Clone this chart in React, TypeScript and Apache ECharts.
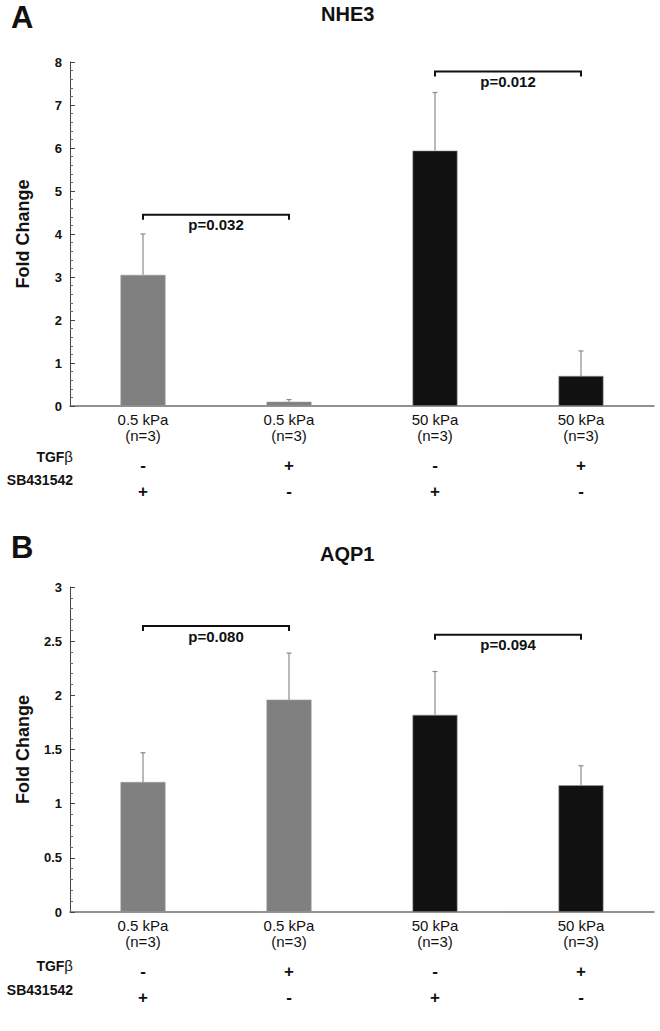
import React, { useEffect, useRef } from 'react';
import * as echarts from 'echarts';

// ---------- data ----------
const categories = ['0.5 kPa', '0.5 kPa', '50 kPa', '50 kPa'];
const sampleSizes = ['(n=3)', '(n=3)', '(n=3)', '(n=3)'];
const tgfSigns = ['-', '+', '-', '+'];
const sbSigns = ['+', '-', '+', '-'];
const barColors = ['#808080', '#808080', '#111111', '#111111'];

const nhe3Values = [3.05, 0.1, 5.94, 0.7];
const nhe3ErrTop = [4.0, 0.15, 7.29, 1.28];
const nhe3Brackets = [[0, 1, 4.45], [2, 3, 7.78]];
const nhe3PLabels = ['p=0.032', 'p=0.012'];
const nhe3Max = 8;
const nhe3Interval = 1;

const aqp1Values = [1.2, 1.96, 1.82, 1.17];
const aqp1ErrTop = [1.47, 2.39, 2.22, 1.35];
const aqp1Brackets = [[0, 1, 2.64], [2, 3, 2.56]];
const aqp1PLabels = ['p=0.080', 'p=0.094'];
const aqp1Max = 3;
const aqp1Interval = 0.5;

const FONT = 'Arial, "Liberation Sans", Helvetica, sans-serif';

function buildPanel(gridIndex: number, values: number[], errTop: number[], brackets: number[][], pLabels: string[], max: number, interval: number) {
  const xBase = gridIndex * 3;
  const xAxes = [
    {
      type: 'category',
      gridIndex,
      data: categories.map((c, i) => c + '\n' + sampleSizes[i]),
      axisLine: { lineStyle: { color: '#6e6e6e', width: 1.5 } },
      axisTick: { show: false },
      axisLabel: { interval: 0, margin: 5, color: '#111', fontSize: 15, lineHeight: 16, fontFamily: FONT },
    },
    {
      type: 'category',
      gridIndex,
      data: tgfSigns,
      position: 'bottom',
      offset: 46,
      axisLine: { show: false },
      axisTick: { show: false },
      axisLabel: { interval: 0, margin: 5, color: '#111', fontSize: 17, fontWeight: 'bold', fontFamily: FONT },
    },
    {
      type: 'category',
      gridIndex,
      data: sbSigns,
      position: 'bottom',
      offset: 72,
      axisLine: { show: false },
      axisTick: { show: false },
      axisLabel: { interval: 0, margin: 5, color: '#111', fontSize: 17, fontWeight: 'bold', fontFamily: FONT },
    },
  ];
  const yAxis = {
    type: 'value',
    gridIndex,
    min: 0,
    max,
    interval,
    name: 'Fold Change',
    nameLocation: 'middle',
    nameGap: 38,
    nameRotate: 90,
    nameTextStyle: { fontSize: 18, fontWeight: 'bold', color: '#111', fontFamily: FONT },
    axisLine: { show: true, lineStyle: { color: '#444', width: 1 } },
    axisTick: { show: true, inside: true, length: 5, lineStyle: { color: '#444' } },
    minorTick: { show: true, splitNumber: 5, length: 3, lineStyle: { color: '#666' } },
    splitLine: { show: false },
    axisLabel: { margin: 8, fontSize: 13, fontWeight: 'bold', color: '#111', fontFamily: FONT },
  };
  const series = [
    {
      type: 'bar',
      xAxisIndex: xBase,
      yAxisIndex: gridIndex,
      barWidth: 45,
      data: values.map((v, i) => ({ value: v, itemStyle: { color: barColors[i], borderColor: '#9a9a9a', borderWidth: 0.6 } })),
    },
    {
      type: 'custom',
      xAxisIndex: xBase,
      yAxisIndex: gridIndex,
      data: values.map((v, i) => [i, v, errTop[i]]),
      encode: { x: 0, y: [1, 2] },
      renderItem: (params: any, api: any) => {
        const p0 = api.coord([api.value(0), api.value(1)]);
        const p1 = api.coord([api.value(0), api.value(2)]);
        const st = { stroke: '#8a8a8a', lineWidth: 1.2 };
        return {
          type: 'group',
          children: [
            { type: 'line', shape: { x1: p0[0], y1: p0[1], x2: p1[0], y2: p1[1] }, style: st },
            { type: 'line', shape: { x1: p1[0] - 2.5, y1: p1[1], x2: p1[0] + 2.5, y2: p1[1] }, style: st },
          ],
        };
      },
      z: 3,
    },
    {
      type: 'custom',
      xAxisIndex: xBase,
      yAxisIndex: gridIndex,
      data: brackets,
      encode: { x: [0, 1], y: 2 },
      clip: false,
      renderItem: (params: any, api: any) => {
        const a = api.coord([api.value(0), api.value(2)]);
        const b = api.coord([api.value(1), api.value(2)]);
        return {
          type: 'group',
          children: [
            {
              type: 'polyline',
              shape: { points: [[a[0], a[1] + 5], [a[0], a[1]], [b[0], b[1]], [b[0], b[1] + 5]] },
              style: { stroke: '#111', lineWidth: 2, fill: 'none' },
            },
            {
              type: 'text',
              x: (a[0] + b[0]) / 2,
              y: a[1] + 2.5,
              style: {
                text: pLabels[params.dataIndex],
                align: 'center',
                verticalAlign: 'top',
                fontSize: 15,
                fontWeight: 'bold',
                fontFamily: FONT,
                fill: '#111',
              },
            },
          ],
        };
      },
      z: 4,
    },
  ];
  return { xAxes, yAxis, series };
}

export default function App() {
  const ref = useRef<HTMLDivElement>(null);
  useEffect(() => {
    if (!ref.current) return;
    const chart = echarts.init(ref.current, null, { renderer: 'svg' });
    const p0 = buildPanel(0, nhe3Values, nhe3ErrTop, nhe3Brackets, nhe3PLabels, nhe3Max, nhe3Interval);
    const p1 = buildPanel(1, aqp1Values, aqp1ErrTop, aqp1Brackets, aqp1PLabels, aqp1Max, aqp1Interval);
    const rowName = (txt: string, y: number, greek?: string) => ({
      type: 'text',
      right: 660 - 73,
      top: y,
      style: greek
        ? {
            text: '{b|' + txt + '}{g|' + greek + '}',
            rich: {
              b: { fontSize: 14, fontWeight: 'bold', fontFamily: FONT, fill: '#111' },
              g: { fontSize: 15, fontWeight: 'normal', fontFamily: FONT, fill: '#111' },
            },
          }
        : { text: txt, fontSize: 14, fontWeight: 'bold', fontFamily: FONT, fill: '#111' },
    });
    chart.setOption({
      animation: false,
      backgroundColor: '#fff',
      grid: [
        { left: 70, top: 62, width: 584, height: 344 },
        { left: 70, top: 587, width: 584, height: 325 },
      ],
      xAxis: [...p0.xAxes, ...p1.xAxes],
      yAxis: [p0.yAxis, p1.yAxis],
      series: [...p0.series, ...p1.series],
      graphic: [
        { type: 'text', left: 11, top: 2, style: { text: 'A', fontSize: 31, fontWeight: 'bold', fontFamily: FONT, fill: '#111' } },
        { type: 'text', left: 321, top: 4, style: { text: 'NHE3', fontSize: 20, fontWeight: 'bold', fontFamily: FONT, fill: '#111' } },
        { type: 'text', left: 11, top: 532, style: { text: 'B', fontSize: 31, fontWeight: 'bold', fontFamily: FONT, fill: '#111' } },
        { type: 'text', left: 320, top: 544, style: { text: 'AQP1', fontSize: 20, fontWeight: 'bold', fontFamily: FONT, fill: '#111' } },
        rowName('TGF', 449, 'β'),
        rowName('SB431542', 473),
        rowName('TGF', 958, 'β'),
        rowName('SB431542', 983),
      ],
    });
    return () => chart.dispose();
  }, []);
  return <div ref={ref} style={{ position: 'absolute', left: 0, top: 0, width: 660, height: 1031 }} />;
}
